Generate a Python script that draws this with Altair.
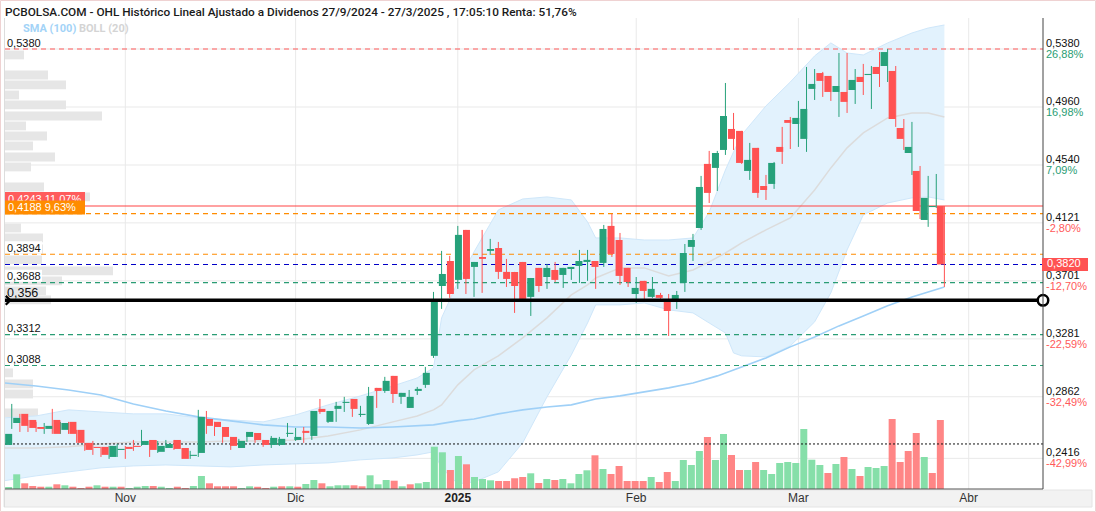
import altair as alt
import pandas as pd

TITLE = "PCBOLSA.COM - OHL Histórico Lineal Ajustado a Dividenos 27/9/2024 - 27/3/2025 , 17:05:10 Renta: 51,76%"
FONT = "Liberation Sans"
TFONT = "Roboto"

# ---- trading calendar (visible window) ----
first_day = "2024-10-11"
holidays = ["2024-12-25", "2024-12-26", "2025-01-01"]
month_names = {11: "Nov", 12: "Dic", 1: "2025", 2: "Feb", 3: "Mar", 4: "Abr"}

# ---- daily OHLC (EUR) from 11/10/2024 to 27/3/2025 ----
opens = [0.2513,
 0.2672, 0.2738, 0.2694, 0.2643, 0.2629, 0.2694, 0.2622, 0.2680, 0.2622, 0.2528,
 0.2499, 0.2499, 0.2426, 0.2477, 0.2499, 0.2506, 0.2513, 0.2549, 0.2463, 0.2491,
 0.2549, 0.2491, 0.2434, 0.2455, 0.2701, 0.2680, 0.2643, 0.2571, 0.2491, 0.2571,
 0.2600, 0.2549, 0.2513, 0.2513, 0.2593, 0.2549, 0.2615, 0.2578, 0.2774, 0.2680,
 0.2774, 0.2817, 0.2846, 0.2730, 0.2665, 0.2926, 0.2904, 0.3013, 0.2861, 0.2781,
 0.2904, 0.2948, 0.3158, 0.3664, 0.3845, 0.3708, 0.4070, 0.3802, 0.3874, 0.3918,
 0.3939, 0.3766, 0.3766, 0.3838, 0.3585, 0.3795, 0.3729, 0.3780, 0.3744, 0.3787,
 0.3809, 0.3838, 0.3845, 0.3831, 0.4099, 0.3997, 0.3795, 0.3606, 0.3701, 0.3585,
 0.3599, 0.3556, 0.3570, 0.3686, 0.3947, 0.4084, 0.4548, 0.4519, 0.4649, 0.4801,
 0.4787, 0.4497, 0.4664, 0.4388, 0.4403, 0.4671, 0.4866, 0.4837, 0.4729, 0.5091,
 0.5206, 0.5185, 0.5069, 0.5069, 0.5083, 0.5178, 0.5192, 0.5250, 0.5257, 0.5221,
 0.4808, 0.4627, 0.4497, 0.4142, 0.4236, 0.4243]
highs = [0.2600,
 0.2810, 0.2738, 0.2694, 0.2680, 0.2672, 0.2774, 0.2680, 0.2680, 0.2622, 0.2528,
 0.2542, 0.2499, 0.2506, 0.2520, 0.2506, 0.2549, 0.2622, 0.2549, 0.2542, 0.2549,
 0.2549, 0.2491, 0.2470, 0.2767, 0.2759, 0.2680, 0.2643, 0.2571, 0.2557, 0.2607,
 0.2600, 0.2549, 0.2578, 0.2571, 0.2672, 0.2636, 0.2643, 0.2759, 0.2846, 0.2759,
 0.2825, 0.2861, 0.2846, 0.2796, 0.2933, 0.2926, 0.3006, 0.3013, 0.2890, 0.2911,
 0.2933, 0.3078, 0.3621, 0.3918, 0.3882, 0.4099, 0.4070, 0.3838, 0.4070, 0.4005,
 0.3983, 0.3860, 0.3766, 0.3838, 0.3722, 0.3795, 0.3824, 0.3838, 0.3795, 0.3802,
 0.3925, 0.3925, 0.3845, 0.4106, 0.4186, 0.4048, 0.3795, 0.3729, 0.3701, 0.3729,
 0.3614, 0.3606, 0.3628, 0.3968, 0.4041, 0.4461, 0.4642, 0.4642, 0.5134, 0.4917,
 0.4787, 0.4700, 0.4664, 0.4468, 0.4562, 0.4816, 0.4888, 0.5004, 0.5250, 0.5235,
 0.5214, 0.5185, 0.5351, 0.5351, 0.5235, 0.5272, 0.5257, 0.5358, 0.5380, 0.5257,
 0.4873, 0.4852, 0.4533, 0.4461, 0.4475, 0.4243]
lows = [0.2506,
 0.2629, 0.2607, 0.2607, 0.2607, 0.2593, 0.2593, 0.2593, 0.2593, 0.2528, 0.2470,
 0.2441, 0.2426, 0.2412, 0.2426, 0.2412, 0.2470, 0.2506, 0.2426, 0.2455, 0.2491,
 0.2477, 0.2412, 0.2412, 0.2426, 0.2593, 0.2578, 0.2528, 0.2477, 0.2491, 0.2535,
 0.2528, 0.2499, 0.2491, 0.2506, 0.2571, 0.2542, 0.2528, 0.2549, 0.2738, 0.2672,
 0.2680, 0.2752, 0.2716, 0.2716, 0.2658, 0.2781, 0.2890, 0.2817, 0.2810, 0.2781,
 0.2875, 0.2926, 0.3143, 0.3498, 0.3578, 0.3643, 0.3606, 0.3585, 0.3614, 0.3889,
 0.3715, 0.3657, 0.3469, 0.3570, 0.3447, 0.3621, 0.3643, 0.3693, 0.3650, 0.3708,
 0.3686, 0.3701, 0.3643, 0.3802, 0.3874, 0.3672, 0.3657, 0.3541, 0.3570, 0.3578,
 0.3570, 0.3302, 0.3498, 0.3621, 0.3845, 0.4070, 0.4265, 0.4352, 0.4613, 0.4649,
 0.4548, 0.4432, 0.4302, 0.4287, 0.4367, 0.4548, 0.4656, 0.4671, 0.4635, 0.5011,
 0.5033, 0.5004, 0.4888, 0.4917, 0.4982, 0.5047, 0.4946, 0.5105, 0.5141, 0.4816,
 0.4649, 0.4468, 0.4149, 0.4092, 0.4229, 0.3657]
closes = [0.2593,
 0.2709, 0.2651, 0.2636, 0.2629, 0.2651, 0.2593, 0.2672, 0.2593, 0.2528, 0.2477,
 0.2491, 0.2441, 0.2506, 0.2484, 0.2484, 0.2499, 0.2542, 0.2477, 0.2506, 0.2520,
 0.2484, 0.2412, 0.2441, 0.2716, 0.2651, 0.2643, 0.2571, 0.2506, 0.2542, 0.2607,
 0.2549, 0.2513, 0.2564, 0.2557, 0.2600, 0.2571, 0.2600, 0.2759, 0.2752, 0.2759,
 0.2796, 0.2825, 0.2774, 0.2738, 0.2868, 0.2904, 0.2977, 0.2882, 0.2890, 0.2861,
 0.2919, 0.3035, 0.3563, 0.3751, 0.3606, 0.4034, 0.3715, 0.3838, 0.3860, 0.3932,
 0.3766, 0.3715, 0.3664, 0.3570, 0.3722, 0.3664, 0.3795, 0.3708, 0.3795, 0.3802,
 0.3845, 0.3853, 0.3802, 0.4077, 0.3896, 0.3737, 0.3693, 0.3650, 0.3628, 0.3643,
 0.3578, 0.3483, 0.3599, 0.3903, 0.3997, 0.4381, 0.4338, 0.4627, 0.4895, 0.4729,
 0.4555, 0.4577, 0.4338, 0.4359, 0.4555, 0.4635, 0.4845, 0.4881, 0.4946, 0.5127,
 0.5149, 0.5069, 0.5112, 0.4997, 0.5156, 0.5141, 0.5199, 0.5199, 0.5358, 0.4873,
 0.4729, 0.4671, 0.4207, 0.4302, 0.4243, 0.3820]
# volume (x100.000 acciones)
volumes = [2,
 14.7, 5.7, 3, 2.3, 2.3, 4.7, 3.7, 2.3, 1, 2.3,
 3.7, 2.3, 2.3, 2.3, 1, 2.3, 3, 3, 2.3, 1,
 2.3, 1, 3, 13, 5.7, 2.7, 2.7, 2.7, 1, 2.7,
 2.3, 1, 2.3, 2.7, 2.7, 2.3, 5, 9, 5.7, 2.7,
 3.7, 3.7, 3.7, 2.7, 13.7, 4.7, 9, 8.3, 2.7, 4.7,
 5.7, 7, 42.3, 36.7, 19, 33, 24.7, 12, 10, 8.7,
 8, 8, 10.7, 12, 15.7, 6, 10, 9, 10, 5.7,
 15, 18.7, 33.7, 20, 15, 23, 8, 8, 8, 12,
 7, 17, 8, 29, 24, 38, 52, 29, 55, 34,
 19, 19, 27, 19, 15, 26, 27, 26, 60, 29.3,
 24, 16, 25, 32, 20, 13, 22, 21, 23, 70,
 27, 38, 56, 32, 16, 69]

# ---- Bollinger (20) read at sample sessions ----
band_t = [-1, 3, 7, 11, 15, 19, 23, 27, 31, 35, 39, 43, 47, 50, 52, 53, 55, 57, 60, 63,
          66, 69, 71, 72, 75, 78, 81, 84, 86, 88, 89, 90, 93, 96, 99, 101, 103, 105, 108, 111,
          113, 115]
boll_up = [0.2709, 0.2723, 0.2767, 0.2752, 0.2738, 0.2738, 0.2709, 0.2694, 0.2680, 0.2730,
           0.2803, 0.2868, 0.2940, 0.2998, 0.3071, 0.3433, 0.3693, 0.3911, 0.4215, 0.4294,
           0.4309, 0.4287, 0.4128, 0.4012, 0.4012, 0.3997, 0.3997, 0.4012, 0.4200, 0.4504,
           0.4635, 0.4758, 0.4968, 0.5141, 0.5330, 0.5424, 0.5351, 0.5337, 0.5424, 0.5496,
           0.5532, 0.5554]
boll_lo = [0.2253, 0.2289, 0.2318, 0.2347, 0.2361, 0.2368, 0.2361, 0.2354, 0.2368, 0.2376,
           0.2383, 0.2405, 0.2419, 0.2441, 0.2463, 0.2347, 0.2231, 0.2245, 0.2318, 0.2528,
           0.2861, 0.3165, 0.3396, 0.3527, 0.3527, 0.3541, 0.3491, 0.3469, 0.3396, 0.3324,
           0.3179, 0.3158, 0.3150, 0.3230, 0.3404, 0.3614, 0.3925, 0.4178, 0.4265, 0.4302,
           0.4309, 0.4287]
boll_mid = [0.2491, 0.2491, 0.2499, 0.2520, 0.2535, 0.2535, 0.2535, 0.2542, 0.2542, 0.2549,
            0.2578, 0.2622, 0.2680, 0.2723, 0.2767, 0.2803, 0.2948, 0.3056, 0.3158, 0.3288,
            0.3433, 0.3599, 0.3672, 0.3722, 0.3795, 0.3795, 0.3737, 0.3780, 0.3838, 0.3903,
            0.3939, 0.3976, 0.4070, 0.4157, 0.4359, 0.4519, 0.4664, 0.4772, 0.4881, 0.4917,
            0.4917, 0.4888]

# ---- SMA (100) read at sample sessions ----
sma_t = [-1, 3, 7, 11, 15, 19, 23, 27, 31, 35, 39, 43, 47, 52, 55, 57, 60, 63, 66, 69,
         72, 75, 78, 81, 84, 87, 90, 93, 96, 99, 102, 105, 108, 111, 113, 115]
sma_v = [0.2962, 0.2940, 0.2911, 0.2875, 0.2810, 0.2759, 0.2716, 0.2687, 0.2658, 0.2643,
         0.2643, 0.2636, 0.2643, 0.2658, 0.2687, 0.2701, 0.2738, 0.2767, 0.2788, 0.2803,
         0.2846, 0.2868, 0.2897, 0.2926, 0.2962, 0.3013, 0.3078, 0.3143, 0.3223, 0.3295,
         0.3375, 0.3447, 0.3520, 0.3585, 0.3621, 0.3657]

# ---- volume profile (price bins, relative volume) ----
prof_price = [0.5337, 0.5192, 0.5120, 0.5047, 0.4975, 0.4895, 0.4823, 0.4750, 0.4678, 0.4598,
              0.4526, 0.4381, 0.4309, 0.4236, 0.4084, 0.4012, 0.3932, 0.3853, 0.3773, 0.3701,
              0.3628, 0.3563, 0.3035, 0.2955, 0.2882, 0.2745, 0.2665, 0.2586, 0.2513, 0.2441]
prof_vol = [19, 43, 61, 14, 61, 97, 21, 42, 28, 50,
            26, 39, 85, 60, 16, 38, 38, 37, 108, 57,
            41, 46, 8, 28, 28, 33, 33, 25, 16, 16]

# ---- price axis (right) ----
axis_prices = [0.5380, 0.4960, 0.4540, 0.4121, 0.3701, 0.3281, 0.2862, 0.2416]
axis_pcts = ["26,88%", "16,98%", "7,09%", "-2,80%", "-12,70%", "-22,59%", "-32,49%", "-42,99%"]

# ---- horizontal levels ----
dashed_levels = [0.5380, 0.4188, 0.3894, 0.3820, 0.3688, 0.3312, 0.3088]
dashed_colors = ["#ff5a5a", "#ff8c00", "#ff8c00", "#0000c8", "#2a9d74", "#2a9d74", "#2a9d74"]
plain_labels = [0.5380, 0.3894, 0.3688, 0.3312, 0.3088]
prev_close = 0.4243
prev_label = "0,4243  11,07%"
stop_level = 0.4188
stop_label = "0,4188  9,63%"
support = 0.356
support_label = "0,356"
last_price = 0.3820
vol_ref = 0.2520

# ================= build tables =================
cal = [d for d in pd.bdate_range(first_day, "2025-04-30") if d.strftime("%Y-%m-%d") not in holidays]
n = len(opens)
t0 = -1
c = pd.DataFrame({"t": list(range(t0, t0 + n)),
                  "fecha": [d.strftime("%Y-%m-%d") for d in cal[:n]],
                  "o": opens, "h": highs, "l": lows, "c": closes, "v": volumes})
GREEN, RED = "#26a17a", "#ff5252"
c["ccol"] = [GREEN if cl >= op else RED for op, cl in zip(c.o, c.c)]
prevc = c.c.shift(1).fillna(c.o)
c["vcol"] = ["#86dfa9" if cl >= pc else "#ff8686" for cl, pc in zip(c.c, prevc)]
bhi = c[["o", "c"]].max(axis=1)
blo = c[["o", "c"]].min(axis=1)
mid = (bhi + blo) / 2
small = (bhi - blo) < 0.0008
c["bhi"] = bhi.where(~small, mid + 0.0004)
c["blo"] = blo.where(~small, mid - 0.0004)

months = []
for i in range(1, len(cal)):
    if cal[i].month != cal[i - 1].month and cal[i].month in month_names:
        months.append({"t": i + t0, "label": month_names[cal[i].month],
                       "bold": cal[i].month == 1})
months = pd.DataFrame(months)

band = pd.DataFrame({"t": band_t, "up": boll_up, "lo": boll_lo, "mid": boll_mid})
sma = pd.DataFrame({"t": sma_t, "v": sma_v})
prof = pd.DataFrame({"p": prof_price, "pv": prof_vol})


def fmt(v, d=4):
    return f"{v:.{d}f}".replace(".", ",")


axis_df = pd.DataFrame({"p": axis_prices, "txt": [fmt(v) for v in axis_prices], "pct": axis_pcts,
                        "pcol": ["#2a9d74" if not s.startswith("-") else "#ff5a5a" for s in axis_pcts]})
dash_df = pd.DataFrame({"p": dashed_levels, "col": dashed_colors})
plain_df = pd.DataFrame({"p": plain_labels, "txt": [fmt(v) for v in plain_labels]})
one = pd.DataFrame({"a": [0]})

# ================= chart =================
W, H = 1038, 471
xs = alt.Scale(domain=[-0.834, 127.16], zero=False, nice=False)
ys = alt.Scale(domain=[0.21939, 0.56045], zero=False, nice=False)
vs = alt.Scale(domain=[0, 471], zero=True, nice=False)
ps = alt.Scale(domain=[0, 1038], zero=True, nice=False)


def X(f):
    return alt.X(f, type="quantitative", scale=xs, axis=None)


def Y(f):
    return alt.Y(f, type="quantitative", scale=ys, axis=None)


layers = []
# grid
layers.append(alt.Chart(axis_df).mark_rule(color="#e9e9e9", strokeWidth=1).encode(
    y=Y("p"), x=alt.value(0), x2=alt.value(W)))
layers.append(alt.Chart(months).mark_rule(color="#e9e9e9", strokeWidth=1).encode(
    x=X("t"), y=alt.value(0), y2=alt.value(H)))
# volume profile
layers.append(alt.Chart(prof).transform_calculate(
    lo="datum.p - 0.0032", hi="datum.p + 0.0032", z="0").mark_rect(color="#e6e6e6").encode(
    x=alt.X("z:Q", scale=ps, axis=None), x2="pv:Q", y=Y("lo"), y2="hi:Q"))
# Bollinger
layers.append(alt.Chart(band).mark_area(color="#e2f2fd", clip=True).encode(
    x=X("t"), y=Y("up"), y2="lo:Q"))
layers.append(alt.Chart(band).mark_line(color="#cfe7fa", strokeWidth=1, clip=True).encode(x=X("t"), y=Y("up")))
layers.append(alt.Chart(band).mark_line(color="#cfe7fa", strokeWidth=1, clip=True).encode(x=X("t"), y=Y("lo")))
layers.append(alt.Chart(band).mark_line(color="#dcdcdc", strokeWidth=1.5, clip=True).encode(x=X("t"), y=Y("mid")))
# SMA 100
layers.append(alt.Chart(sma).mark_line(color="#9fd0f7", strokeWidth=1.6, clip=True).encode(x=X("t"), y=Y("v")))
# volume
layers.append(alt.Chart(c).mark_bar(size=7, clip=True).encode(
    x=X("t"), y=alt.Y("v:Q", scale=vs, axis=None), color=alt.Color("vcol:N", scale=None)))
layers.append(alt.Chart(pd.DataFrame({"p": [vol_ref]})).mark_rule(
    color="#111", strokeDash=[2, 2], strokeWidth=1).encode(y=Y("p"), x=alt.value(0), x2=alt.value(W)))
# levels
layers.append(alt.Chart(dash_df).mark_rule(strokeDash=[5, 4], strokeWidth=1.1).encode(
    y=Y("p"), x=alt.value(0), x2=alt.value(W), color=alt.Color("col:N", scale=None)))
layers.append(alt.Chart(pd.DataFrame({"p": [prev_close]})).mark_rule(color="#ff4545", strokeWidth=1.2).encode(
    y=Y("p"), x=alt.value(0), x2=alt.value(W)))
# candles
layers.append(alt.Chart(c).mark_rule(strokeWidth=1, clip=True).encode(
    x=X("t"), y=Y("l"), y2="h:Q", color=alt.Color("ccol:N", scale=None)))
layers.append(alt.Chart(c).mark_bar(size=7, clip=True).encode(
    x=X("t"), y=Y("blo"), y2="bhi:Q", color=alt.Color("ccol:N", scale=None)))
# support line
sup = pd.DataFrame({"p": [support], "txt": [support_label]})
layers.append(alt.Chart(sup).mark_rule(color="black", strokeWidth=3.5).encode(
    y=Y("p"), x=alt.value(0), x2=alt.value(W)))
layers.append(alt.Chart(sup).mark_point(shape="circle", size=110, fill="white", fillOpacity=1,
                                        stroke="black", strokeWidth=2.5, opacity=1).encode(
    x=alt.value(W), y=Y("p")))
layers.append(alt.Chart(sup).mark_point(shape="M-0.5,-1L0.5,0L-0.5,1", size=80, filled=False,
                                        stroke="black", strokeWidth=2.2, opacity=1).encode(
    x=alt.value(3), y=Y("p")))
layers.append(alt.Chart(sup).mark_text(align="left", baseline="alphabetic", dy=-3, fontSize=12.5,
                                       font=FONT, color="#111").encode(
    x=alt.value(2), y=Y("p"), text="txt:N"))
# left labels
layers.append(alt.Chart(plain_df).mark_rect(color="white", yOffset=-13, y2Offset=-1).encode(
    x=alt.value(0), x2=alt.value(37), y=Y("p"), y2="p:Q"))
layers.append(alt.Chart(plain_df).mark_text(align="left", baseline="alphabetic", dy=-2.5, fontSize=11,
                                            font=FONT, color="#111").encode(
    x=alt.value(2), y=Y("p"), text="txt:N"))
pc = pd.DataFrame({"p": [prev_close], "txt": [prev_label]})
layers.append(alt.Chart(pc).mark_rect(color="#ff5c5c", yOffset=-14, y2Offset=2).encode(
    x=alt.value(0), x2=alt.value(80), y=Y("p"), y2="p:Q"))
layers.append(alt.Chart(pc).mark_text(align="left", baseline="middle", dy=-6.5, fontSize=11,
                                      font=FONT, color="white").encode(
    x=alt.value(3), y=Y("p"), text="txt:N"))
st = pd.DataFrame({"p": [stop_level], "txt": [stop_label]})
layers.append(alt.Chart(st).mark_rect(color="#ff8c00", yOffset=-13, y2Offset=1).encode(
    x=alt.value(0), x2=alt.value(80), y=Y("p"), y2="p:Q"))
layers.append(alt.Chart(st).mark_text(align="left", baseline="middle", dy=-5.5, fontSize=11,
                                      font=FONT, color="white").encode(
    x=alt.value(3), y=Y("p"), text="txt:N"))
# frame pieces
layers.append(alt.Chart(one).mark_rect(fill="#f2f2f2", stroke="#e4e4e4").encode(
    x=alt.value(-1), x2=alt.value(1087), y=alt.value(H + 1), y2=alt.value(H + 18)))
layers.append(alt.Chart(one).mark_rule(color="#555", strokeWidth=1).encode(
    x=alt.value(0), x2=alt.value(W), y=alt.value(H)))
layers.append(alt.Chart(one).mark_rule(color="#444", strokeWidth=1).encode(
    x=alt.value(W), y=alt.value(0), y2=alt.value(H)))
layers.append(alt.Chart(one).mark_rule(color="#dddddd", strokeWidth=1).encode(
    x=alt.value(-0.5), y=alt.value(0), y2=alt.value(H + 18)))
layers.append(alt.Chart(one).mark_rect(fill=None, fillOpacity=0, stroke="#efd2d2", strokeWidth=1).encode(
    x=alt.value(-4.5), x2=alt.value(1090.5), y=alt.value(-17.5), y2=alt.value(493.5)))
# right axis labels
layers.append(alt.Chart(axis_df).mark_text(align="left", baseline="middle", dy=-5, fontSize=11,
                                           font=FONT, color="#111").encode(
    x=alt.value(W + 3), y=Y("p"), text="txt:N"))
layers.append(alt.Chart(axis_df).mark_text(align="left", baseline="middle", dy=6, fontSize=11,
                                           font=FONT).encode(
    x=alt.value(W + 3), y=Y("p"), text="pct:N", color=alt.Color("pcol:N", scale=None)))
lp = pd.DataFrame({"p": [last_price], "txt": [fmt(last_price)]})
layers.append(alt.Chart(lp).mark_rect(color="#ff5252", yOffset=-6.5, y2Offset=6.5).encode(
    x=alt.value(W - 1), x2=alt.value(W + 45), y=Y("p"), y2="p:Q"))
layers.append(alt.Chart(lp).mark_text(align="left", baseline="middle", fontSize=11, font=FONT,
                                      color="white").encode(
    x=alt.value(W + 4), y=Y("p"), text="txt:N"))
# x labels
layers.append(alt.Chart(months).transform_filter("!datum.bold").mark_text(
    baseline="middle", fontSize=12, font=FONT, color="#333").encode(
    x=X("t"), y=alt.value(H + 9), text="label:N"))
layers.append(alt.Chart(months).transform_filter("datum.bold").mark_text(
    baseline="middle", fontSize=12, font=FONT, fontWeight="bold", color="#222").encode(
    x=X("t"), y=alt.value(H + 9), text="label:N"))
# title + legend
layers.append(alt.Chart(one).mark_text(align="left", baseline="middle", fontSize=11.8, font=TFONT,
                                       fontWeight=500, color="#1a1a1a").encode(
    x=alt.value(0), y=alt.value(-6), text=alt.value(TITLE)))
layers.append(alt.Chart(one).mark_text(align="left", baseline="middle", fontSize=11, font=TFONT,
                                       fontWeight="bold", color="#a3d3f7").encode(
    x=alt.value(18), y=alt.value(11), text=alt.value("SMA (100)")))
layers.append(alt.Chart(one).mark_text(align="left", baseline="middle", fontSize=11, font=TFONT,
                                       fontWeight="bold", color="#d4d4d4").encode(
    x=alt.value(74), y=alt.value(11), text=alt.value("BOLL (20)")))

chart = alt.layer(*layers).resolve_scale(x="independent", y="independent").properties(
    width=W, height=H,
    padding={"left": 5, "top": 18, "right": 53, "bottom": 23},
    autosize=alt.AutoSizeParams(type="none"),
).configure_view(stroke=None)

chart.save("out.html", embed_options={"renderer": "svg", "actions": False})
